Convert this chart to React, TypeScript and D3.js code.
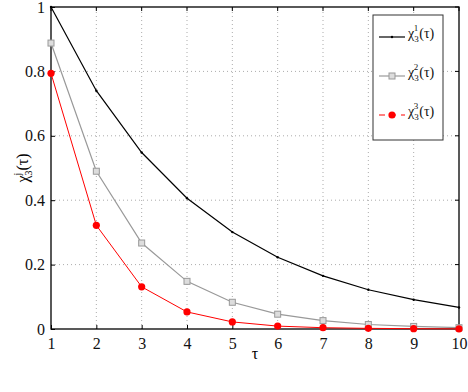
import React, { useEffect, useRef } from "react";
import * as d3 from "d3";

const tau = [1, 2, 3, 4, 5, 6, 7, 8, 9, 10];
const chi1 = [1, 0.74, 0.548, 0.406, 0.301, 0.223, 0.165, 0.122, 0.091, 0.067];
const chi2 = [0.888, 0.49, 0.267, 0.148, 0.083, 0.046, 0.026, 0.014, 0.008, 0.004];
const chi3 = [0.794, 0.322, 0.131, 0.053, 0.022, 0.009, 0.004, 0.002, 0.001, 0.0003];
const yTicks = [0, 0.2, 0.4, 0.6, 0.8, 1];
const yTickLabels = ["0", "0.2", "0.4", "0.6", "0.8", "1"];

const width = 468;
const height = 392;
const margin = { top: 7, right: 9, bottom: 63, left: 51 };
const font = "Liberation Serif, DejaVu Serif, serif";

const App = () => {
  const svgRef = useRef<SVGSVGElement>(null);

  useEffect(() => {
    const svg = d3.select(svgRef.current);
    svg.selectAll("*").remove();

    const x = d3.scaleLinear().domain([1, 10]).range([margin.left, width - margin.right]);
    const y = d3.scaleLinear().domain([0, 1]).range([height - margin.bottom, margin.top]);

    // grid
    const grid = svg.append("g");
    tau.slice(1, -1).forEach((t) => {
      grid.append("line")
        .attr("x1", x(t)).attr("x2", x(t))
        .attr("y1", y(0)).attr("y2", y(1))
        .attr("stroke", "#888").attr("stroke-width", 0.7)
        .attr("stroke-dasharray", "1,3");
    });
    yTicks.slice(1, -1).forEach((v) => {
      grid.append("line")
        .attr("x1", x(1)).attr("x2", x(10))
        .attr("y1", y(v)).attr("y2", y(v))
        .attr("stroke", "#888").attr("stroke-width", 0.7)
        .attr("stroke-dasharray", "1,3");
    });

    // axes
    const xAxis = svg.append("g")
      .attr("transform", `translate(0,${y(0)})`)
      .call(d3.axisBottom(x).tickValues(tau).tickFormat(d3.format("d")).tickSizeInner(-4).tickSizeOuter(0).tickPadding(9));
    xAxis.select(".domain").remove();
    xAxis.selectAll("text").style("font-family", font).style("font-size", "16px").attr("fill", "#111");

    const yAxis = svg.append("g")
      .attr("transform", `translate(${x(1)},0)`)
      .call(d3.axisLeft(y).tickValues(yTicks).tickFormat((d, i) => yTickLabels[i]).tickSizeInner(-4).tickSizeOuter(0).tickPadding(6));
    yAxis.select(".domain").remove();
    yAxis.selectAll("text").style("font-family", font).style("font-size", "16px").attr("fill", "#111");

    // right/top ticks
    const mirror = svg.append("g");
    tau.forEach((t) => {
      mirror.append("line").attr("x1", x(t)).attr("x2", x(t)).attr("y1", y(1)).attr("y2", y(1) + 4).attr("stroke", "#000");
    });
    yTicks.forEach((v) => {
      mirror.append("line").attr("x1", x(10)).attr("x2", x(10) - 4).attr("y1", y(v)).attr("y2", y(v)).attr("stroke", "#000");
    });

    // frame
    svg.append("rect")
      .attr("x", x(1)).attr("y", y(1))
      .attr("width", x(10) - x(1)).attr("height", y(0) - y(1))
      .attr("fill", "none").attr("stroke", "#000").attr("stroke-width", 1.3);

    const line = d3.line<number>().x((d, i) => x(tau[i])).y((d) => y(d));

    // series 1
    svg.append("path").attr("d", line(chi1)).attr("fill", "none").attr("stroke", "#000").attr("stroke-width", 1.2);
    svg.append("g").selectAll("circle").data(chi1).enter().append("circle")
      .attr("cx", (d, i) => x(tau[i])).attr("cy", (d) => y(d)).attr("r", 1.2).attr("fill", "#000");

    // series 2
    svg.append("path").attr("d", line(chi2)).attr("fill", "none").attr("stroke", "#999").attr("stroke-width", 1.2);
    svg.append("g").selectAll("rect").data(chi2).enter().append("rect")
      .attr("x", (d, i) => x(tau[i]) - 3).attr("y", (d) => y(d) - 3)
      .attr("width", 6).attr("height", 6)
      .attr("fill", "#ddd").attr("stroke", "#999").attr("stroke-width", 1);

    // series 3
    svg.append("path").attr("d", line(chi3)).attr("fill", "none").attr("stroke", "#ff0000").attr("stroke-width", 1);
    svg.append("g").selectAll("circle").data(chi3).enter().append("circle")
      .attr("cx", (d, i) => x(tau[i])).attr("cy", (d) => y(d)).attr("r", 3.6).attr("fill", "#ff0000");

    // axis labels
    svg.append("text")
      .attr("x", (x(1) + x(10)) / 2).attr("y", height - 33)
      .attr("text-anchor", "middle").style("font-family", font).style("font-size", "16px")
      .text("τ");

    const yl = svg.append("text")
      .attr("transform", `translate(28,${(y(0) + y(1)) / 2}) rotate(-90)`)
      .attr("text-anchor", "middle").style("font-family", font).style("font-size", "16px");
    yl.append("tspan").text("χ");
    yl.append("tspan").style("font-size", "10px").attr("dy", 4).text("3");
    yl.append("tspan").style("font-size", "10px").attr("dy", -11).attr("dx", -5).text("j");
    yl.append("tspan").attr("dy", 7).attr("dx", 2).text("(τ)");

    // legend
    const lg = svg.append("g");
    lg.append("rect").attr("x", 373).attr("y", 15).attr("width", 70).attr("height", 125)
      .attr("fill", "#fff").attr("stroke", "#333").attr("stroke-width", 1);
    const items = [
      { sup: "1", color: "#000", dash: null, marker: "dot" },
      { sup: "2", color: "#999", dash: null, marker: "square" },
      { sup: "3", color: "#ff0000", dash: "6,5", marker: "circle" },
    ];
    items.forEach((it, i) => {
      const cy = 37 + i * 39;
      lg.append("line").attr("x1", 379).attr("x2", 405).attr("y1", cy).attr("y2", cy)
        .attr("stroke", it.color).attr("stroke-width", 1.2)
        .attr("stroke-dasharray", it.dash);
      if (it.marker === "dot") {
        lg.append("circle").attr("cx", 392).attr("cy", cy).attr("r", 1.2).attr("fill", "#000");
      } else if (it.marker === "square") {
        lg.append("rect").attr("x", 389).attr("y", cy - 3).attr("width", 6).attr("height", 6)
          .attr("fill", "#ddd").attr("stroke", "#999");
      } else {
        lg.append("circle").attr("cx", 392).attr("cy", cy).attr("r", 3.6).attr("fill", "#ff0000");
      }
      const t = lg.append("text").attr("x", 408).attr("y", cy + 1)
        .style("font-family", font).style("font-size", "14px").attr("fill", "#111");
      t.append("tspan").text("χ");
      t.append("tspan").style("font-size", "9px").attr("dy", 4).text("3");
      t.append("tspan").style("font-size", "9px").attr("dy", -11).attr("dx", -5).text(it.sup);
      t.append("tspan").attr("dy", 7).attr("dx", 1).text("(τ)");
    });
  }, []);

  return (
    <svg ref={svgRef} width={width} height={height} style={{ position: "absolute", left: 0, top: 0, background: "#fff" }} />
  );
};

export default App;
